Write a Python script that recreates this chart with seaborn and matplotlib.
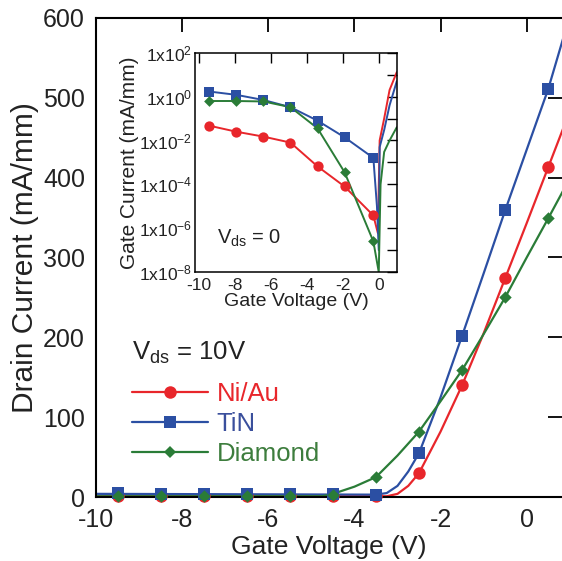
import numpy as np
import pandas as pd
import matplotlib
matplotlib.use("Agg")
import matplotlib.pyplot as plt
import seaborn as sns
from matplotlib.lines import Line2D
from matplotlib.ticker import FixedLocator, FuncFormatter

# ---------------- data ----------------
series = ["Ni/Au", "TiN", "Diamond"]

# main plot: marker points
vg_mark = [-9.5, -8.5, -7.5, -6.5, -5.5, -4.5, -3.5, -2.5, -1.5, -0.5, 0.5]
id_niau_mark = [1, 1, 1, 1, 1, 1, 1, 30, 140, 274, 413]
id_tin_mark = [5, 4, 4, 4, 4, 4, 3, 55, 202, 359, 511]
id_dia_mark = [1, 1, 1, 1, 1, 2, 25, 82, 159, 250, 349]

# main plot: measured curves
vg_niau_line = [-10, -3.25, -3.0, -2.75, -2.5, -2.0, -1.5, -1.0, -0.5, 0.0, 0.5, 0.85]
id_niau_line = [1, 1, 4, 14, 30, 82, 140, 205, 274, 343, 413, 462]
vg_tin_line = [-10, -3.5, -3.25, -3.0, -2.75, -2.5, -2.0, -1.5, -1.0, -0.5, 0.0, 0.5, 0.85]
id_tin_line = [4, 3, 5, 14, 32, 55, 125, 202, 280, 359, 435, 511, 575]
vg_dia_line = [-10, -4.75, -4.5, -4.0, -3.5, -3.0, -2.5, -2.0, -1.5, -1.0, -0.5, 0.0, 0.5, 0.85]
id_dia_line = [1, 1, 4, 13, 25, 52, 82, 120, 159, 204, 250, 300, 349, 384]

# inset: gate current (mA/mm) at Vds = 0
vg_in_mark = [-9.4, -7.9, -6.4, -4.9, -3.4, -1.9, -0.3]
ig_niau_mark = [0.047, 0.025, 0.015, 8e-3, 6.6e-4, 8e-5, 3.8e-6]
ig_tin_mark = [1.7, 1.2, 0.7, 0.33, 0.08, 0.014, 1.6e-3]
ig_dia_mark = [0.63, 0.63, 0.6, 0.33, 0.036, 3.6e-4, 2.5e-7]

vg_in_niau_tail = [-0.3, -0.05, 0.05, 0.3, 0.6, 1.0]
ig_niau_tail = [3.8e-6, 6e-7, 1e-2, 0.1, 2.0, 13.0]
vg_in_tin_tail = [-0.3, -0.1, 0.0, 0.05, 0.3, 0.6, 1.0]
ig_tin_tail = [1.6e-3, 1e-5, 1e-7, 5e-3, 0.03, 0.4, 5.0]
vg_in_dia_tail = [-0.3, 0.0, 0.1, 0.3, 0.6, 1.0]
ig_dia_tail = [2.5e-7, 1e-8, 1e-4, 3e-3, 1e-2, 0.04]

colors = {"Ni/Au": "#e8262b", "TiN": "#2b4fa3", "Diamond": "#2a7c37"}
text_colors = {"Ni/Au": "#e8262b", "TiN": "#3a4f9c", "Diamond": "#3d7d3d"}
markers = {"Ni/Au": "o", "TiN": "s", "Diamond": "D"}
msize = {"Ni/Au": 80, "TiN": 85, "Diamond": 40}
dark = "#222222"

# ---------------- styling ----------------
sns.set_theme(style="white")
plt.rcParams["font.family"] = ["Liberation Sans", "DejaVu Sans"]
plt.rcParams["mathtext.fontset"] = "custom"
plt.rcParams["mathtext.rm"] = "Liberation Sans"
plt.rcParams["mathtext.it"] = "Liberation Sans"

fig = plt.figure(figsize=(5.62, 5.61), dpi=100)
ax = fig.add_axes([0.171, 0.114, 0.829, 0.854])

main_lines = {
    "Ni/Au": (vg_niau_line, id_niau_line, id_niau_mark),
    "TiN": (vg_tin_line, id_tin_line, id_tin_mark),
    "Diamond": (vg_dia_line, id_dia_line, id_dia_mark),
}
for s in series:
    xl, yl, ym = main_lines[s]
    dfl = pd.DataFrame({"Vg": xl, "Id": yl})
    sns.lineplot(data=dfl, x="Vg", y="Id", ax=ax, color=colors[s], lw=1.6,
                 sort=False, estimator=None, legend=False)
    dfm = pd.DataFrame({"Vg": vg_mark, "Id": ym})
    sns.scatterplot(data=dfm, x="Vg", y="Id", ax=ax, color=colors[s],
                    marker=markers[s], s=msize[s], linewidth=0, legend=False,
                    zorder=3, clip_on=False)

ax.set_xlim(-10, 0.82)
ax.set_ylim(0, 600)
ax.set_xticks([-10, -8, -6, -4, -2, 0])
ax.set_xticklabels(["-10", "-8", "-6", "-4", "-2", "0"])
ax.set_yticks([0, 100, 200, 300, 400, 500, 600])
ax.tick_params(axis="both", which="major", direction="in", length=10, width=1.3,
               labelsize=18, top=True, right=True, color="black",
               labelcolor=dark)
ax.tick_params(axis="x", pad=8)
ax.tick_params(axis="y", pad=8)
for sp in ["left", "bottom", "top"]:
    ax.spines[sp].set_color("black")
    ax.spines[sp].set_linewidth(1.5)
ax.spines["right"].set_visible(False)
ax.set_xlabel("Gate Voltage (V)", fontsize=19, labelpad=2, color=dark)
ax.set_ylabel("Drain Current (mA/mm)", fontsize=21.5, labelpad=3, color=dark)

# legend
ax.text(0.077, 0.286, r"V$_{\mathrm{ds}}$ = 10V", transform=ax.transAxes,
        fontsize=18.5, color=dark, va="baseline", ha="left")
handles = [Line2D([0], [0], color=colors[s], marker=markers[s], lw=1.6,
                  markersize={"Ni/Au": 9, "TiN": 9, "Diamond": 6}[s],
                  markeredgewidth=0) for s in series]
leg = ax.legend(handles, series, loc="upper left", bbox_to_anchor=(0.077, 0.24),
                frameon=False, fontsize=18.5, handlelength=2.95, handletextpad=0.35,
                labelspacing=0.24, borderaxespad=0, borderpad=0)
for t, s in zip(leg.get_texts(), series):
    t.set_color(text_colors[s])

# ---------------- inset ----------------
axi = fig.add_axes([0.347, 0.515, 0.359, 0.391])
inset = {
    "Ni/Au": (ig_niau_mark, vg_in_niau_tail, ig_niau_tail),
    "TiN": (ig_tin_mark, vg_in_tin_tail, ig_tin_tail),
    "Diamond": (ig_dia_mark, vg_in_dia_tail, ig_dia_tail),
}
for s in series:
    ym, xt, yt = inset[s]
    xl = list(vg_in_mark) + list(xt[1:])
    yl = list(ym) + list(yt[1:])
    dfl = pd.DataFrame({"Vg": xl, "Ig": yl})
    sns.lineplot(data=dfl, x="Vg", y="Ig", ax=axi, color=colors[s], lw=1.4,
                 sort=False, estimator=None, legend=False)
    dfm = pd.DataFrame({"Vg": vg_in_mark, "Ig": ym})
    sns.scatterplot(data=dfm, x="Vg", y="Ig", ax=axi, color=colors[s],
                    marker=markers[s], s={"Ni/Au": 55, "TiN": 60, "Diamond": 30}[s],
                    linewidth=0, legend=False, zorder=3)
axi.set_yscale("log")
axi.set_xlim(-10.2, 1.0)
axi.set_ylim(1e-8, 1e2)
axi.set_xticks([-10, -8, -6, -4, -2, 0])
axi.set_xticklabels(["-10", "-8", "-6", "-4", "-2", "0"])
axi.yaxis.set_major_locator(FixedLocator([1e-8, 1e-6, 1e-4, 1e-2, 1e0, 1e2]))
axi.yaxis.set_minor_locator(FixedLocator([1e-7, 1e-5, 1e-3, 1e-1, 1e1]))
axi.yaxis.set_major_formatter(FuncFormatter(
    lambda v, p: r"1x10$^{%d}$" % int(round(np.log10(v)))))
axi.yaxis.set_minor_formatter(FuncFormatter(lambda v, p: ""))
axi.tick_params(axis="both", which="both", direction="in", top=True, right=True,
                width=1.0, color="black")
axi.tick_params(axis="both", which="major", length=7, labelsize=12.5,
                labelcolor=dark)
axi.tick_params(axis="y", which="major", pad=2)
axi.tick_params(axis="x", which="major", pad=4)
axi.tick_params(axis="y", which="minor", length=7)
axi.tick_params(axis="x", which="minor", length=0)
for sp in axi.spines.values():
    sp.set_color("black")
    sp.set_linewidth(1.1)
axi.set_xlabel("Gate Voltage (V)", fontsize=14, labelpad=0, color=dark)
axi.set_ylabel("Gate Current (mA/mm)", fontsize=15, labelpad=0, color=dark)
axi.text(0.11, 0.13, r"V$_{\mathrm{ds}}$ = 0", transform=axi.transAxes,
         fontsize=14.5, color=dark, va="baseline", ha="left")

fig.savefig("out.png", dpi=100)
